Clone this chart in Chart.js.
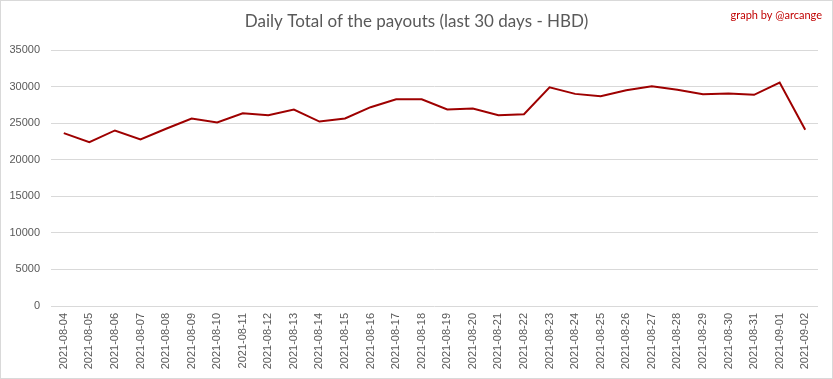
<!DOCTYPE html>
<html>
<head>
<meta charset="utf-8">
<script src="https://cdn.jsdelivr.net/npm/chart.js@4/dist/chart.umd.min.js"></script>
<style>
    html, body { margin: 0; padding: 0; background: #fff; }
    #wrap { width: 833px; height: 379px; }
</style>
</head>
<body>
<div id="wrap"><canvas id="payoutChart" width="833" height="379"></canvas></div>
<script>
"use strict";

let dny = ["2021-08-04", "2021-08-05", "2021-08-06", "2021-08-07", "2021-08-08", "2021-08-09",
    "2021-08-10", "2021-08-11", "2021-08-12", "2021-08-13", "2021-08-14", "2021-08-15",
    "2021-08-16", "2021-08-17", "2021-08-18", "2021-08-19", "2021-08-20", "2021-08-21",
    "2021-08-22", "2021-08-23", "2021-08-24", "2021-08-25", "2021-08-26", "2021-08-27",
    "2021-08-28", "2021-08-29", "2021-08-30", "2021-08-31", "2021-09-01", "2021-09-02"];

let vyplaty = [23630, 22400, 24000, 22770, 24230, 25630,
    25090, 26360, 26080, 26860, 25220, 25630,
    27180, 28270, 28270, 26860, 27000, 26080,
    26220, 29900, 29000, 28680, 29490, 30040,
    29550, 28950, 29040, 28870, 30540, 24090];

let y_ticks = [0, 5000, 10000, 15000, 20000, 25000, 30000, 35000];

let nadpis = "Daily Total of the payouts (last 30 days - HBD)";
let podpis = "graph by @arcange";

// title, watermark and outer frame
let ramecek = {
    id: "ramecek",
    afterDraw(chart)
    {
        let ctx = chart.ctx;
        ctx.save();
        ctx.strokeStyle = "#d9d9d9";
        ctx.lineWidth = 1;
        ctx.strokeRect(0.5, 0.5, chart.width - 1, chart.height - 1);

        ctx.fillStyle = "#595959";
        ctx.font = "17px Lato";
        ctx.textAlign = "center";
        ctx.textBaseline = "middle";
        ctx.fillText(nadpis, chart.width / 2, 22);

        ctx.fillStyle = "#c00000";
        ctx.font = "11px Lato";
        ctx.textAlign = "right";
        ctx.fillText(podpis, chart.width - 11, 15);
        ctx.restore();
    }
};

let ctxPayout = document.getElementById("payoutChart").getContext("2d");
let payoutChart = new Chart(ctxPayout, {
    type: "line",
    data: {
        labels: dny,
        datasets: [{
            label: "HBD",
            data: vyplaty,
            borderColor: "#9e0000",
            borderWidth: 2,
            pointRadius: 0,
            tension: 0,
            fill: false
        }]
    },
    options: {
        responsive: false,
        animation: false,
        layout: {
            padding: { top: 50, left: 0, right: 15, bottom: 0 }
        },
        plugins: {
            legend: { display: false },
            tooltip: { enabled: false }
        },
        scales: {
            x: {
                offset: true,
                grid: { display: false, drawTicks: false },
                border: { display: false },
                ticks: {
                    minRotation: 90,
                    maxRotation: 90,
                    autoSkip: false,
                    padding: 7,
                    color: "#595959",
                    font: { family: "Liberation Sans", size: 11 }
                },
                afterFit(scale) { scale.height = 73; }
            },
            y: {
                min: 0,
                max: 35000,
                afterBuildTicks(scale) { scale.ticks = y_ticks.map(v => ({ value: v })); },
                grid: { color: "#d9d9d9", drawTicks: false, lineWidth: 1 },
                border: { display: false },
                ticks: {
                    padding: 11,
                    color: "#595959",
                    font: { family: "Liberation Sans", size: 11 },
                    callback: (v) => String(v)
                },
                afterFit(scale) { scale.width = 51; }
            }
        }
    },
    plugins: [ramecek]
});
</script>
</body>
</html>
